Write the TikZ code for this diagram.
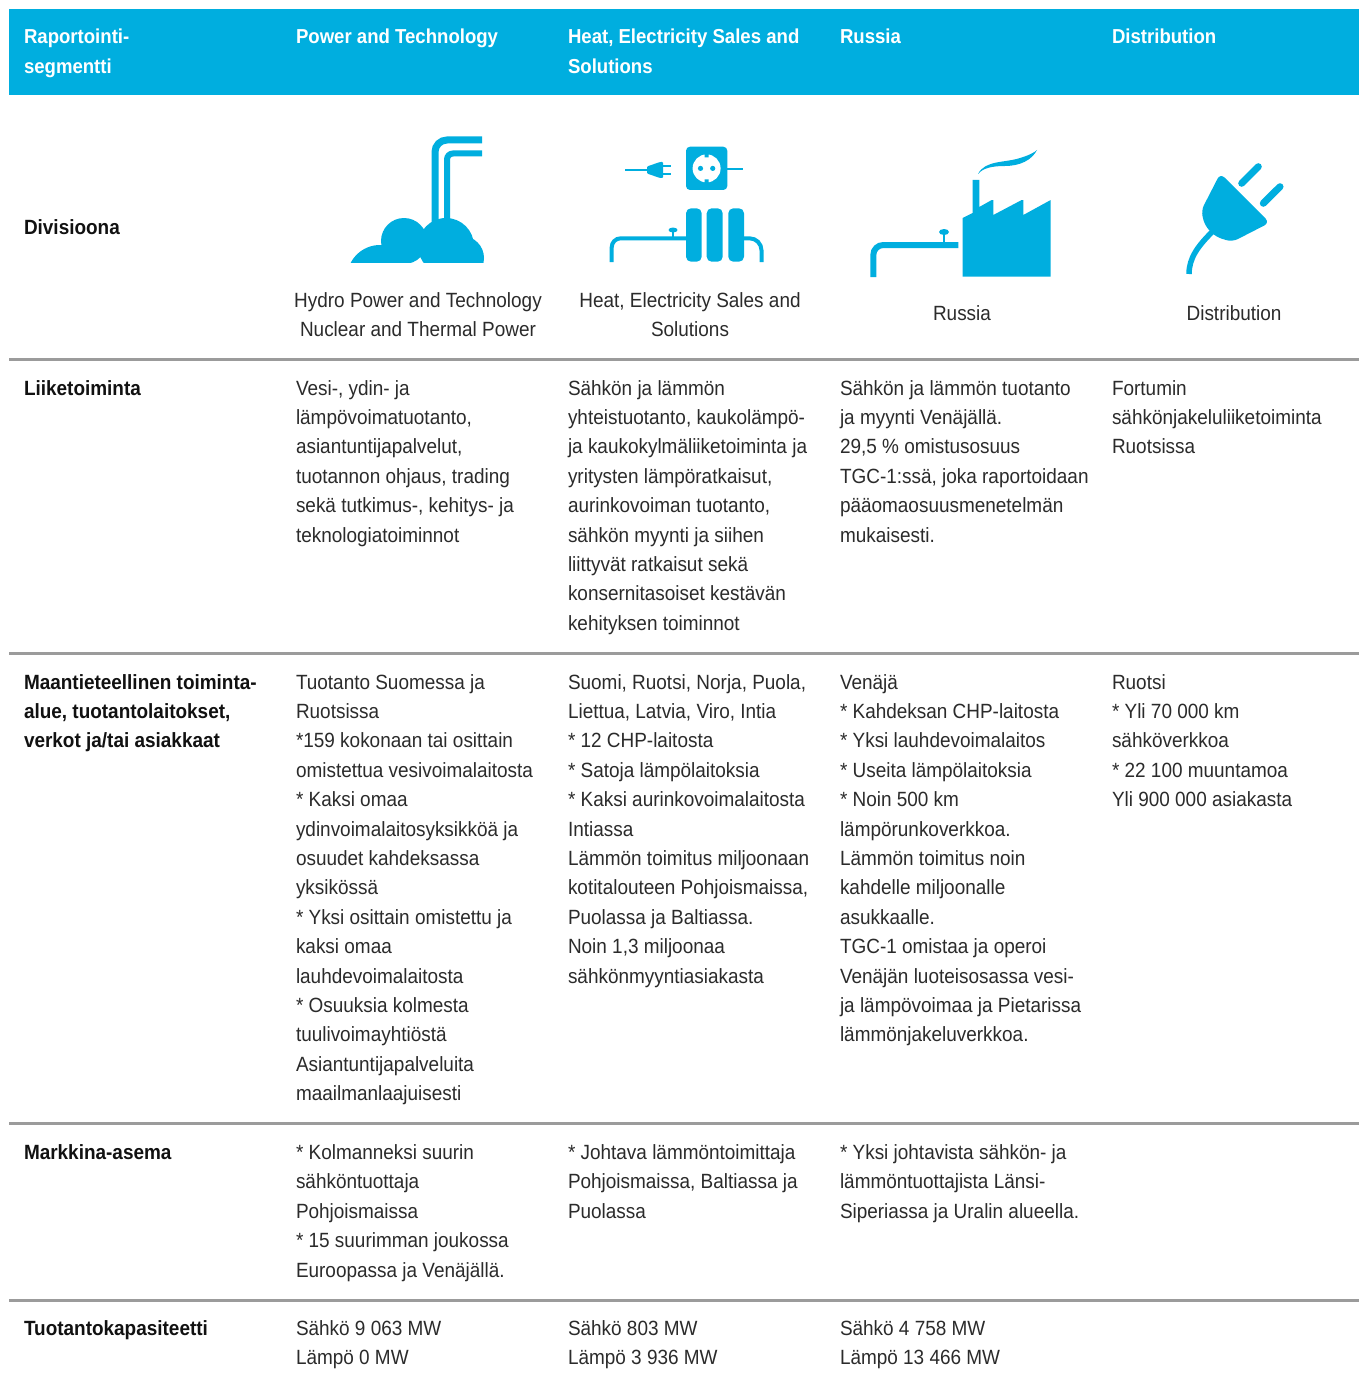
\documentclass[tikz,border=0pt]{standalone}
\usepackage{fontspec}
\setmainfont[FakeStretch=0.92]{Liberation Sans}
\definecolor{fc}{HTML}{00AEDF}
\definecolor{txt}{HTML}{2B2B2B}
\definecolor{lbl}{HTML}{111111}
\definecolor{rule}{HTML}{9B9B9B}
\newcommand{\celltext}[1]{\begin{tabular}[t]{@{}l@{}}#1\end{tabular}}
\newcommand{\ctrtext}[1]{\begin{tabular}[t]{@{}c@{}}#1\end{tabular}}
\newcommand{\st}{{*}}
\tikzset{
  cell/.style={anchor=base west, inner sep=0pt, outer sep=0pt, text=txt, font=\fontsize{20.6}{29.4}\selectfont},
  rowlbl/.style={cell, text=lbl, font=\fontsize{20.6}{29.4}\selectfont\bfseries},
  hdr/.style={cell, text=white, font=\fontsize{20.2}{30}\selectfont\bfseries},
  divlbl/.style={anchor=base, inner sep=0pt, outer sep=0pt, text=txt, font=\fontsize{20.6}{29}\selectfont},
  seprule/.style={draw=rule, line width=3pt},
}
\begin{document}
\begin{tikzpicture}[x=1pt,y=-1pt]
\useasboundingbox (0,0) rectangle (1359,1383);
\fill[white] (0,0) rectangle (1359,1383);
% header bar
\fill[fc] (9,9) rectangle (1359,95);
\node[hdr] (h1) at (24,44) {\celltext{Raportointi-\\segmentti}};
\node[hdr] (h2) at (296,44) {Power and Technology};
\node[hdr] (h3) at (568,44) {\celltext{Heat, Electricity Sales and\\Solutions}};
\node[hdr] (h4) at (840,44) {Russia};
\node[hdr] (h5) at (1112,44) {Distribution};
% division row
\node[rowlbl] (d1) at (24,234) {Divisioona};
% hydro icon
\begin{scope}
\clip (340,200) rectangle (500,262);
\fill[fc] (380,278) circle (33pt) (404,241) circle (23pt) (446,246) circle (28pt) (462,258) circle (22pt);
\end{scope}
\draw[fc, line width=7pt, rounded corners=12pt] (435,230) -- (435,140) -- (482,140);
\draw[fc, line width=6pt, rounded corners=6pt] (447,230) -- (447,153.5) -- (482,153.5);
% heat icon
\draw[fc, line width=2.5pt] (625,170) -- (648,170);
\fill[fc, rounded corners=1pt] (647,166.5) -- (660,162) -- (663,162) -- (663,178) -- (660,178) -- (647,173.5) -- cycle;
\draw[fc, line width=2.2pt] (662,166) -- (671,166) (662,174) -- (671,174);
\fill[fc, rounded corners=4pt] (686,146.7) rectangle (727.3,190);
\fill[white] (706.6,168.4) circle (14pt);
\fill[fc] (700.5,168.4) circle (2.6pt) (712.7,168.4) circle (2.6pt);
\fill[fc] (704.6,154) rectangle (708.6,157.5) (704.6,179.3) rectangle (708.6,182.8);
\draw[fc, line width=2pt] (727,169) -- (743,169);
\fill[fc, rounded corners=5pt] (686,208.3) rectangle (701.7,261.7) (706.7,208.3) rectangle (722.7,261.7) (728.3,208.3) rectangle (744,261.7);
\draw[fc, line width=4pt, rounded corners=9pt] (687,238.3) -- (611.7,238.3) -- (611.7,262);
\draw[fc, line width=2.5pt] (673,238) -- (673,231);
\fill[fc] (673,230) ellipse (4.5pt and 2.5pt);
\draw[fc, line width=4pt, rounded corners=12pt] (743,238.3) -- (761.5,238.3) -- (761.5,262);
% russia icon
\draw[fc, line width=6pt, rounded corners=10pt] (873.3,277) -- (873.3,245) -- (958.3,245);
\draw[fc, line width=2.5pt] (944,245) -- (944,233);
\fill[fc] (944,232) ellipse (5pt and 3pt);
\fill[fc] (962.7,276.7) -- (962.7,218) -- (972.7,213) -- (972.7,180) -- (979.3,180) -- (979.3,207) -- (991.7,200) -- (993.3,200) -- (993.3,215) -- (1021.7,200) -- (1023.3,200) -- (1023.3,215) -- (1050.7,200) -- (1050.7,276.7) -- cycle;
\fill[fc] (978,174) .. controls (985,160) and (1005,163) .. (1020,158) .. controls (1030,155) and (1035,152) .. (1037,150) .. controls (1032,160) and (1020,166) .. (1005,166) .. controls (992,166) and (983,168) .. cycle;
% distribution icon
\fill[fc, rounded corners=6pt] (1220.3,173.3) -- (1269.7,222.7) -- (1232.3,241.9) -- (1216,237) -- (1205,226) -- (1201.1,210.7) -- cycle;
\draw[fc, line width=7pt, line cap=round] (1241.7,183.3) -- (1258.3,166.7) (1263.3,203.3) -- (1280,186.7);
\draw[fc, line width=5.5pt] (1212,232) .. controls (1198,246) and (1189,258) .. (1189,274);
% division labels
\node[divlbl] (l2) at (418,307) {\ctrtext{Hydro Power and Technology\\Nuclear and Thermal Power}};
\node[divlbl] (l3) at (690,307) {\ctrtext{Heat, Electricity Sales and\\Solutions}};
\node[divlbl] (l4) at (962,320) {Russia};
\node[divlbl] (l5) at (1234,320) {Distribution};
% rules
\draw[seprule] (9,359.5) -- (1359,359.5);
\draw[seprule] (9,653.5) -- (1359,653.5);
\draw[seprule] (9,1123.5) -- (1359,1123.5);
\draw[seprule] (9,1300.5) -- (1359,1300.5);
% row: Liiketoiminta
\node[rowlbl] (r1c1) at (24,395) {Liiketoiminta};
\node[cell] (r1c2) at (296,395) {\celltext{Vesi-, ydin- ja\\lämpövoimatuotanto,\\asiantuntijapalvelut,\\tuotannon ohjaus, trading\\sekä tutkimus-, kehitys- ja\\teknologiatoiminnot}};
\node[cell] (r1c3) at (568,395) {\celltext{Sähkön ja lämmön\\yhteistuotanto, kaukolämpö-\\ja kaukokylmäliiketoiminta ja\\yritysten lämpöratkaisut,\\aurinkovoiman tuotanto,\\sähkön myynti ja siihen\\liittyvät ratkaisut sekä\\konsernitasoiset kestävän\\kehityksen toiminnot}};
\node[cell] (r1c4) at (840,395) {\celltext{Sähkön ja lämmön tuotanto\\ja myynti Venäjällä.\\29,5 \% omistusosuus\\TGC-1:ssä, joka raportoidaan\\pääomaosuusmenetelmän\\mukaisesti.}};
\node[cell] (r1c5) at (1112,395) {\celltext{Fortumin\\sähkönjakeluliiketoiminta\\Ruotsissa}};
% row: Maantieteellinen
\node[rowlbl] (r2c1) at (24,689) {\celltext{Maantieteellinen toiminta-\\alue, tuotantolaitokset,\\verkot ja/tai asiakkaat}};
\node[cell] (r2c2) at (296,689) {\celltext{Tuotanto Suomessa ja\\Ruotsissa\\\st159 kokonaan tai osittain\\omistettua vesivoimalaitosta\\\st{} Kaksi omaa\\ydinvoimalaitosyksikköä ja\\osuudet kahdeksassa\\yksikössä\\\st{} Yksi osittain omistettu ja\\kaksi omaa\\lauhdevoimalaitosta\\\st{} Osuuksia kolmesta\\tuulivoimayhtiöstä\\Asiantuntijapalveluita\\maailmanlaajuisesti}};
\node[cell] (r2c3) at (568,689) {\celltext{Suomi, Ruotsi, Norja, Puola,\\Liettua, Latvia, Viro, Intia\\\st{} 12 CHP-laitosta\\\st{} Satoja lämpölaitoksia\\\st{} Kaksi aurinkovoimalaitosta\\Intiassa\\Lämmön toimitus miljoonaan\\kotitalouteen Pohjoismaissa,\\Puolassa ja Baltiassa.\\Noin 1,3 miljoonaa\\sähkönmyyntiasiakasta}};
\node[cell] (r2c4) at (840,689) {\celltext{Venäjä\\\st{} Kahdeksan CHP-laitosta\\\st{} Yksi lauhdevoimalaitos\\\st{} Useita lämpölaitoksia\\\st{} Noin 500 km\\lämpörunkoverkkoa.\\Lämmön toimitus noin\\kahdelle miljoonalle\\asukkaalle.\\TGC-1 omistaa ja operoi\\Venäjän luoteisosassa vesi-\\ja lämpövoimaa ja Pietarissa\\lämmönjakeluverkkoa.}};
\node[cell] (r2c5) at (1112,689) {\celltext{Ruotsi\\\st{} Yli 70 000 km\\sähköverkkoa\\\st{} 22 100 muuntamoa\\Yli 900 000 asiakasta}};
% row: Markkina-asema
\node[rowlbl] (r3c1) at (24,1159.5) {Markkina-asema};
\node[cell] (r3c2) at (296,1159.5) {\celltext{\st{} Kolmanneksi suurin\\sähköntuottaja\\Pohjoismaissa\\\st{} 15 suurimman joukossa\\Euroopassa ja Venäjällä.}};
\node[cell] (r3c3) at (568,1159.5) {\celltext{\st{} Johtava lämmöntoimittaja\\Pohjoismaissa, Baltiassa ja\\Puolassa}};
\node[cell] (r3c4) at (840,1159.5) {\celltext{\st{} Yksi johtavista sähkön- ja\\lämmöntuottajista Länsi-\\Siperiassa ja Uralin alueella.}};
% row: Tuotantokapasiteetti
\node[rowlbl] (r4c1) at (24,1335.5) {Tuotantokapasiteetti};
\node[cell] (r4c2) at (296,1335.5) {\celltext{Sähkö 9 063 MW\\Lämpö 0 MW}};
\node[cell] (r4c3) at (568,1335.5) {\celltext{Sähkö 803 MW\\Lämpö 3 936 MW}};
\node[cell] (r4c4) at (840,1335.5) {\celltext{Sähkö 4 758 MW\\Lämpö 13 466 MW}};
\end{tikzpicture}
\end{document}
